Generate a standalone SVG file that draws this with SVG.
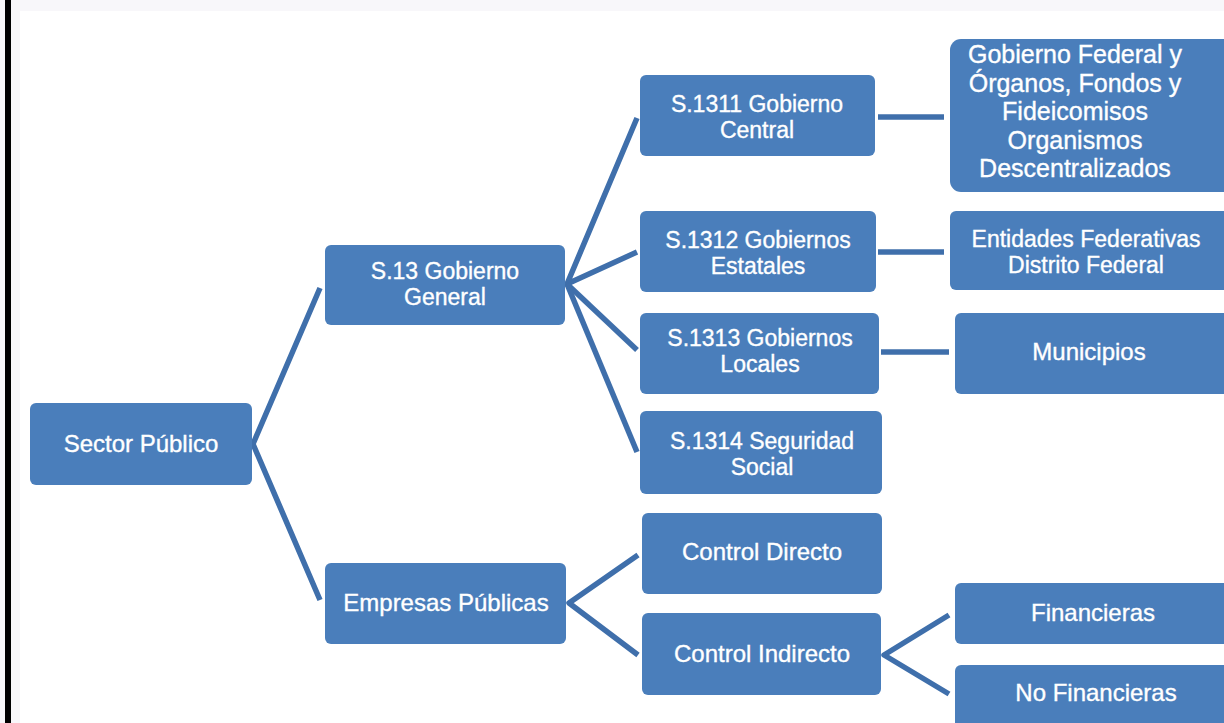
<svg xmlns="http://www.w3.org/2000/svg" width="1224" height="723" viewBox="0 0 1224 723">
  <style>
    .box { fill: #4a7ebb; }
    .lbl { fill: #ffffff; font-family: "Liberation Sans", Arial, sans-serif; font-size: 24px; text-anchor: middle; stroke: #ffffff; stroke-width: 0.35; }
    .two { font-size: 23px; }
    .big { font-size: 25px; }
    .wire { fill: none; stroke: #3f6fab; stroke-width: 5.5; stroke-linecap: butt; stroke-linejoin: round; }
  </style>

  <!-- page -->
  <rect x="0" y="0" width="1224" height="723" fill="#f8f7fa"/>
  <rect x="20" y="11" width="1204" height="712" fill="#ffffff"/>
  <rect x="5" y="0" width="6" height="723" fill="#000000"/>

  <!-- connectors -->
  <g id="connectors">
    <path class="wire" d="M320,288 L253,444 L320,600"/>
    <path class="wire" d="M637,118 L567,284 L637,252"/>
    <path class="wire" d="M567,284 L637,350"/>
    <path class="wire" d="M567,284 L637,452"/>
    <path class="wire" d="M878,117 L944,117"/>
    <path class="wire" d="M878,252 L944,252"/>
    <path class="wire" d="M881,352 L949,352"/>
    <path class="wire" d="M638,555 L569,603 L638,655"/>
    <path class="wire" d="M949,615 L884,655 L949,694"/>
  </g>

  <g id="sector-publico">
    <rect class="box" x="30" y="403" width="222" height="82" rx="6"/>
    <text class="lbl" x="141" y="452">Sector Público</text>
  </g>

  <g id="gobierno-general">
    <rect class="box" x="325" y="245" width="240" height="80" rx="6"/>
    <text class="lbl two" x="445" y="279">S.13 Gobierno</text>
    <text class="lbl two" x="445" y="305">General</text>
  </g>

  <g id="empresas-publicas">
    <rect class="box" x="325" y="563" width="241" height="81" rx="6"/>
    <text class="lbl" x="446" y="611">Empresas Públicas</text>
  </g>

  <g id="gobierno-central">
    <rect class="box" x="640" y="75" width="235" height="81" rx="6"/>
    <text class="lbl two" x="757" y="112">S.1311 Gobierno</text>
    <text class="lbl two" x="757" y="138">Central</text>
  </g>

  <g id="gobiernos-estatales">
    <rect class="box" x="640" y="211" width="236" height="81" rx="6"/>
    <text class="lbl two" x="758" y="248">S.1312 Gobiernos</text>
    <text class="lbl two" x="758" y="274">Estatales</text>
  </g>

  <g id="gobiernos-locales">
    <rect class="box" x="640" y="313" width="239" height="81" rx="6"/>
    <text class="lbl two" x="760" y="346">S.1313 Gobiernos</text>
    <text class="lbl two" x="760" y="372">Locales</text>
  </g>

  <g id="seguridad-social">
    <rect class="box" x="640" y="411" width="242" height="83" rx="6"/>
    <text class="lbl two" x="762" y="449">S.1314 Seguridad</text>
    <text class="lbl two" x="762" y="475">Social</text>
  </g>

  <g id="control-directo">
    <rect class="box" x="642" y="513" width="240" height="81" rx="6"/>
    <text class="lbl" x="762" y="560">Control Directo</text>
  </g>

  <g id="control-indirecto">
    <rect class="box" x="642" y="613" width="239" height="82" rx="6"/>
    <text class="lbl" x="762" y="662">Control Indirecto</text>
  </g>

  <g id="gobierno-federal">
    <rect class="box" x="950" y="39" width="284" height="153" rx="11"/>
    <text class="lbl big" x="1075" y="63">Gobierno Federal y</text>
    <text class="lbl big" x="1075" y="91.5">Órganos, Fondos y</text>
    <text class="lbl big" x="1075" y="120">Fideicomisos</text>
    <text class="lbl big" x="1075" y="148.5">Organismos</text>
    <text class="lbl big" x="1075" y="177">Descentralizados</text>
  </g>

  <g id="entidades-federativas">
    <rect class="box" x="950" y="211" width="284" height="79" rx="6"/>
    <text class="lbl two" x="1086" y="247">Entidades Federativas</text>
    <text class="lbl two" x="1086" y="273">Distrito Federal</text>
  </g>

  <g id="municipios">
    <rect class="box" x="955" y="313" width="279" height="81" rx="6"/>
    <text class="lbl" x="1089" y="360">Municipios</text>
  </g>

  <g id="financieras">
    <rect class="box" x="955" y="583" width="279" height="61" rx="6"/>
    <text class="lbl" x="1093" y="621">Financieras</text>
  </g>

  <g id="no-financieras">
    <rect class="box" x="955" y="665" width="279" height="68" rx="6"/>
    <text class="lbl" x="1096" y="701">No Financieras</text>
  </g>
</svg>
